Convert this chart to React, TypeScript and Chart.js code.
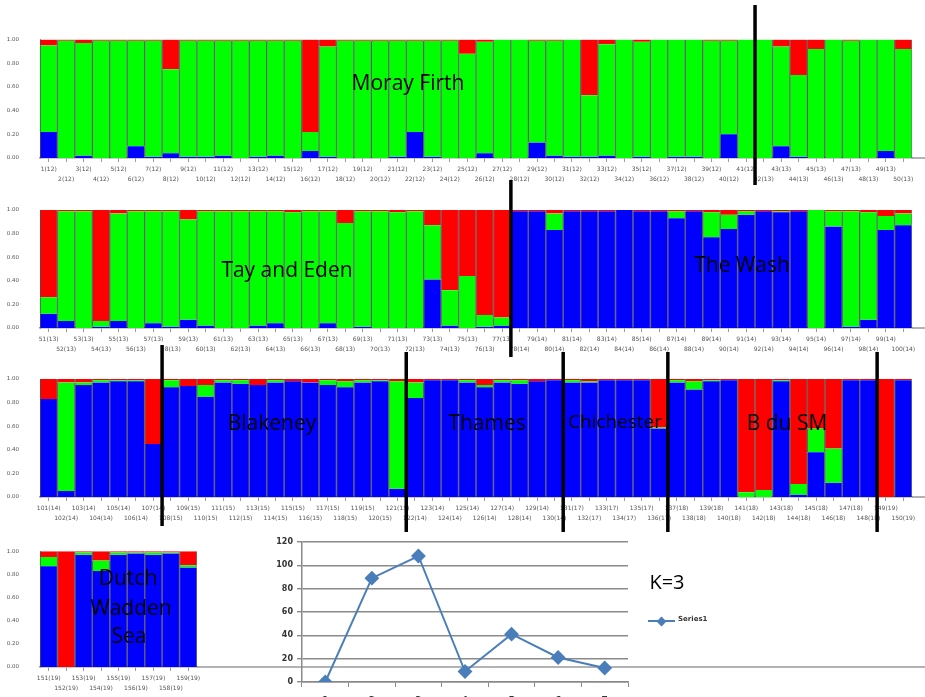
import React, { useEffect, useRef } from 'react';
import { Chart, registerables } from 'chart.js';
Chart.register(...registerables);

// ---- DATA ----
// membership coefficients (K=3) for individuals 1..159: blue cluster, green cluster, red cluster
const blueQ = [
  0.22, 0.00, 0.02, 0.00, 0.00, 0.10, 0.01, 0.04, 0.01, 0.01, 0.02, 0.00, 0.01, 0.02, 0.00, 0.06, 0.01, 0.00, 0.00, 0.00,
  0.01, 0.22, 0.01, 0.00, 0.00, 0.04, 0.00, 0.00, 0.13, 0.02, 0.01, 0.01, 0.02, 0.00, 0.01, 0.00, 0.01, 0.01, 0.00, 0.20,
  0.00, 0.00, 0.10, 0.01, 0.00, 0.00, 0.00, 0.00, 0.06, 0.00,
  0.12, 0.06, 0.00, 0.01, 0.06, 0.00, 0.04, 0.01, 0.07, 0.02, 0.00, 0.00, 0.02, 0.04, 0.00, 0.00, 0.04, 0.00, 0.01, 0.00,
  0.00, 0.00, 0.41, 0.02, 0.00, 0.01, 0.02, 0.99, 0.99, 0.83, 0.99, 0.99, 0.99, 1.00, 0.99, 0.99, 0.93, 0.99, 0.77, 0.84,
  0.96, 0.99, 0.98, 0.99, 0.00, 0.86, 0.01, 0.07, 0.83, 0.87,
  0.83, 0.05, 0.95, 0.97, 0.98, 0.98, 0.45, 0.93, 0.94, 0.85, 0.97, 0.96, 0.95, 0.97, 0.98, 0.97, 0.95, 0.93, 0.97, 0.98,
  0.07, 0.84, 0.99, 0.99, 0.97, 0.93, 0.97, 0.96, 0.98, 0.99, 0.97, 0.97, 0.99, 0.99, 0.99, 0.58, 0.97, 0.91, 0.98, 0.99,
  0.00, 0.00, 0.98, 0.02, 0.38, 0.12, 0.99, 0.99, 0.00, 0.99,
  0.87, 0.00, 0.97, 0.83, 0.97, 0.98, 0.97, 0.98, 0.86,
];
const greenQ = [
  0.73, 0.99, 0.95, 0.99, 0.99, 0.89, 0.98, 0.71, 0.98, 0.98, 0.97, 0.99, 0.98, 0.97, 0.99, 0.16, 0.93, 0.99, 0.99, 0.99,
  0.98, 0.77, 0.98, 0.99, 0.88, 0.94, 1.00, 1.00, 0.86, 0.97, 0.99, 0.52, 0.94, 1.00, 0.97, 1.00, 0.99, 0.99, 0.99, 0.79,
  1.00, 1.00, 0.84, 0.69, 0.92, 1.00, 0.99, 1.00, 0.94, 0.92,
  0.14, 0.93, 0.99, 0.05, 0.91, 0.99, 0.95, 0.98, 0.85, 0.97, 0.99, 0.99, 0.97, 0.95, 0.98, 0.99, 0.95, 0.89, 0.98, 0.99,
  0.98, 0.99, 0.46, 0.30, 0.44, 0.10, 0.07, 0.00, 0.00, 0.14, 0.00, 0.00, 0.00, 0.00, 0.00, 0.00, 0.06, 0.00, 0.21, 0.12,
  0.03, 0.00, 0.01, 0.00, 1.00, 0.13, 0.98, 0.91, 0.12, 0.10,
  0.00, 0.92, 0.02, 0.02, 0.01, 0.01, 0.00, 0.06, 0.00, 0.10, 0.02, 0.03, 0.00, 0.02, 0.00, 0.00, 0.04, 0.05, 0.02, 0.01,
  0.91, 0.13, 0.00, 0.00, 0.02, 0.02, 0.02, 0.03, 0.00, 0.00, 0.02, 0.01, 0.00, 0.00, 0.00, 0.01, 0.02, 0.07, 0.01, 0.00,
  0.04, 0.06, 0.01, 0.09, 0.20, 0.29, 0.00, 0.00, 0.00, 0.00,
  0.08, 0.00, 0.02, 0.09, 0.02, 0.01, 0.02, 0.01, 0.02,
];
const redQ = [
  0.05, 0.01, 0.03, 0.01, 0.01, 0.01, 0.01, 0.25, 0.01, 0.01, 0.01, 0.01, 0.01, 0.01, 0.01, 0.78, 0.06, 0.01, 0.01, 0.01,
  0.01, 0.01, 0.01, 0.01, 0.12, 0.02, 0.00, 0.00, 0.01, 0.01, 0.00, 0.47, 0.04, 0.00, 0.02, 0.00, 0.00, 0.00, 0.01, 0.01,
  0.00, 0.00, 0.06, 0.30, 0.08, 0.00, 0.01, 0.00, 0.00, 0.08,
  0.74, 0.01, 0.01, 0.94, 0.03, 0.01, 0.01, 0.01, 0.08, 0.01, 0.01, 0.01, 0.01, 0.01, 0.02, 0.01, 0.01, 0.11, 0.01, 0.01,
  0.02, 0.01, 0.13, 0.68, 0.56, 0.89, 0.91, 0.01, 0.01, 0.03, 0.01, 0.01, 0.01, 0.00, 0.01, 0.01, 0.01, 0.01, 0.02, 0.04,
  0.01, 0.01, 0.01, 0.01, 0.00, 0.01, 0.01, 0.02, 0.05, 0.03,
  0.17, 0.03, 0.03, 0.01, 0.01, 0.01, 0.55, 0.01, 0.06, 0.05, 0.01, 0.01, 0.05, 0.01, 0.02, 0.03, 0.01, 0.02, 0.01, 0.01,
  0.02, 0.03, 0.01, 0.01, 0.01, 0.05, 0.01, 0.01, 0.02, 0.01, 0.01, 0.02, 0.01, 0.01, 0.01, 0.41, 0.01, 0.02, 0.01, 0.01,
  0.96, 0.94, 0.01, 0.89, 0.42, 0.59, 0.01, 0.01, 1.00, 0.01,
  0.05, 1.00, 0.01, 0.08, 0.01, 0.01, 0.01, 0.01, 0.12,
];
// sample-site codes shown in brackets in tick labels: [first id, last id, code]
const siteCodeRanges = [
  [1, 41, 12], [42, 77, 13], [78, 107, 14], [108, 121, 15], [122, 130, 14],
  [131, 136, 17], [137, 148, 18], [149, 159, 19],
];
// rows of the structure plot: [first index, end index)
const rowRanges = [[0, 50], [50, 100], [100, 150], [150, 159]];
// population boundaries (id of first individual after each black line)
const rowBoundaries = [[42], [78], [108, 122, 131, 137, 149], []];

// Delta K plot
const kLabels = ['1', '2', '3', '4', '5', '6', '7'];
const kValues = [0, 89, 108, 9, 41, 21, 12];

// ---- layout (page px) ----
const rowLayout = [
  { top: 0, height: 192, width: 925, plotTop: 39.5, plotBottom: 158, plotRight: 912, lines: [[5, 185]] },
  { top: 175, height: 190, width: 925, plotTop: 210, plotBottom: 328, plotRight: 912, lines: [[180, 357]] },
  { top: 340, height: 200, width: 925, plotTop: 379, plotBottom: 497, plotRight: 912,
    lines: [[345, 526], [352, 532], [352, 532], [352, 532], [352, 532]] },
  { top: 535, height: 162, width: 925, plotTop: 549, plotBottom: 667, plotRight: 197, lines: [] },
];

const siteCode = (id: number) => {
  for (const r of siteCodeRanges) if (id >= r[0] && id <= r[1]) return r[2];
  return 0;
};

const separatorPlugin = {
  id: 'separators',
  afterDraw(chart: any, _args: any, opts: any) {
    const items = (opts && opts.items) || [];
    const x = chart.scales.x;
    const ctx = chart.ctx;
    ctx.save();
    ctx.strokeStyle = '#000';
    ctx.lineWidth = 3.5;
    for (const it of items) {
      const px = (x.getPixelForValue(it.index - 1) + x.getPixelForValue(it.index)) / 2;
      ctx.beginPath();
      ctx.moveTo(px, it.y0);
      ctx.lineTo(px, it.y1);
      ctx.stroke();
    }
    ctx.restore();
  },
};

const extendAxisPlugin = {
  id: 'extendAxis',
  afterDraw(chart: any) {
    const ctx = chart.ctx;
    const a = chart.chartArea;
    ctx.save();
    ctx.strokeStyle = '#9a9a9a';
    ctx.lineWidth = 1.5;
    ctx.beginPath();
    ctx.moveTo(a.right, a.bottom);
    ctx.lineTo(chart.width, a.bottom);
    ctx.stroke();
    ctx.restore();
  },
};

const BORDER = 'rgba(30,30,30,0.6)';

function StructureRow({ row }: { row: number }) {
  const ref = useRef<HTMLCanvasElement | null>(null);
  const L = rowLayout[row];
  useEffect(() => {
    if (!ref.current) return;
    const [a, b] = rowRanges[row];
    const labels: string[][] = [];
    for (let i = a; i < b; i++) {
      const id = i + 1;
      const t = `${id}(${siteCode(id)})`;
      labels.push(id % 2 === 1 ? [t, ''] : ['', t]);
    }
    const common = {
      borderColor: BORDER,
      borderWidth: { left: 1, right: 1, top: 0, bottom: 0 },
      borderSkipped: false,
      categoryPercentage: 1,
      barPercentage: 1,
    };
    const items = rowBoundaries[row].map((id, k) => ({
      index: id - 1 - a,
      y0: L.lines[k][0] - L.top,
      y1: L.lines[k][1] - L.top,
    }));
    const chart = new Chart(ref.current, {
      type: 'bar',
      data: {
        labels,
        datasets: [
          { ...common, label: 'Cluster 1', data: blueQ.slice(a, b), backgroundColor: '#0000FF' },
          { ...common, label: 'Cluster 2', data: greenQ.slice(a, b), backgroundColor: '#00FF00' },
          { ...common, label: 'Cluster 3', data: redQ.slice(a, b), backgroundColor: '#FF0000' },
        ],
      },
      options: {
        animation: false,
        responsive: false,
        devicePixelRatio: 1,
        layout: { padding: { left: 0, top: L.plotTop - L.top, right: 925 - L.plotRight, bottom: 0 } },
        plugins: {
          legend: { display: false },
          tooltip: { enabled: false },
          separators: { items },
        } as any,
        scales: {
          x: {
            stacked: true,
            grid: { display: true, drawOnChartArea: false, offset: false, tickLength: 4, color: '#9a9a9a' },
            border: { display: true, color: '#9a9a9a', width: 1.5 },
            ticks: {
              autoSkip: false, maxRotation: 0, minRotation: 0, padding: 2,
              font: { family: 'DejaVu Sans', size: 6, lineHeight: '10px' }, color: '#555',
            },
            afterFit: (s: any) => { s.height = L.top + L.height - L.plotBottom; },
          },
          y: {
            stacked: true,
            min: 0,
            max: 1,
            grid: { display: false },
            border: { display: true, color: '#9a9a9a' },
            ticks: {
              stepSize: 0.2, padding: 13,
              callback: (v: any) => Number(v).toFixed(2),
              font: { family: 'DejaVu Sans', size: 5.5 }, color: '#555',
            },
            afterFit: (s: any) => { s.width = 40; },
          },
        },
      } as any,
      plugins: [separatorPlugin, extendAxisPlugin],
    });
    return () => chart.destroy();
  }, [row]);
  return (
    <canvas
      ref={ref}
      width={L.width}
      height={L.height}
      style={{ position: 'absolute', left: 0, top: L.top, width: L.width, height: L.height }}
    />
  );
}

function DeltaKChart() {
  const ref = useRef<HTMLCanvasElement | null>(null);
  useEffect(() => {
    if (!ref.current) return;
    const chart = new Chart(ref.current, {
      type: 'line',
      data: {
        labels: kLabels,
        datasets: [{
          label: 'Series1',
          data: kValues,
          borderColor: '#4A7EBB',
          backgroundColor: '#4A7EBB',
          pointBackgroundColor: '#4A7EBB',
          pointBorderColor: '#4A7EBB',
          borderWidth: 2,
          pointStyle: 'rectRot',
          pointRadius: 6,
          tension: 0,
        }],
      },
      options: {
        animation: false,
        responsive: false,
        devicePixelRatio: 1,
        layout: { padding: { left: 0, top: 12, right: 47, bottom: 0 } },
        plugins: { legend: { display: false }, tooltip: { enabled: false } },
        scales: {
          x: {
            offset: true,
            grid: { offset: true, drawOnChartArea: false, tickLength: 5, color: '#8a8a8a' },
            border: { color: '#8a8a8a', width: 1.5 },
            ticks: { padding: 8, font: { family: 'DejaVu Sans', size: 9, weight: 'bold' }, color: '#333' },
            afterFit: (s: any) => { s.height = 15; },
          },
          y: {
            min: 0,
            max: 120,
            grid: { color: '#8a8a8a', lineWidth: 1.4, tickLength: 5 },
            border: { color: '#8a8a8a', width: 1.5 },
            ticks: { stepSize: 20, padding: 4, font: { family: 'DejaVu Sans', size: 8, weight: 'bold' }, color: '#333' },
            afterFit: (s: any) => { s.width = 47; },
          },
        },
      } as any,
    });
    return () => chart.destroy();
  }, []);
  return (
    <canvas
      ref={ref}
      width={420}
      height={167}
      style={{ position: 'absolute', left: 255, top: 530, width: 420, height: 167 }}
    />
  );
}

const labelStyle = (x: number, y: number, size = 21): React.CSSProperties => ({
  position: 'absolute',
  left: x,
  top: y,
  transform: 'translate(-50%, -50%)',
  fontFamily: '"Open Sans", sans-serif',
  fontSize: size,
  lineHeight: 1,
  whiteSpace: 'nowrap',
  color: '#000',
});

export default function App() {
  return (
    <div style={{ position: 'absolute', left: 0, top: 0, width: 925, height: 697, overflow: 'hidden', background: '#fff' }}>
      <StructureRow row={0} />
      <StructureRow row={1} />
      <StructureRow row={2} />
      <StructureRow row={3} />
      <DeltaKChart />
      <div style={labelStyle(408, 82)}>Moray Firth</div>
      <div style={labelStyle(287, 269)}>Tay and Eden</div>
      <div style={labelStyle(742, 264)}>The Wash</div>
      <div style={labelStyle(272, 422)}>Blakeney</div>
      <div style={labelStyle(487, 422)}>Thames</div>
      <div style={labelStyle(615, 421, 19)}>Chichester</div>
      <div style={labelStyle(787, 422)}>B du SM</div>
      <div style={labelStyle(128, 577)}>Dutch</div>
      <div style={labelStyle(131, 607)}>Wadden</div>
      <div style={labelStyle(129, 635)}>Sea</div>
      <div style={labelStyle(667, 582, 20)}>K=3</div>
      <div style={{ position: 'absolute', left: 648, top: 620, width: 27, height: 2, background: '#4A7EBB' }} />
      <div style={{ position: 'absolute', left: 658, top: 617.5, width: 7, height: 7, background: '#4A7EBB', transform: 'rotate(45deg)' }} />
      <div style={{ position: 'absolute', left: 678, top: 616, fontFamily: 'DejaVu Sans', fontSize: 7, fontWeight: 'bold', color: '#333', lineHeight: 1, whiteSpace: 'nowrap' }}>Series1</div>
    </div>
  );
}
